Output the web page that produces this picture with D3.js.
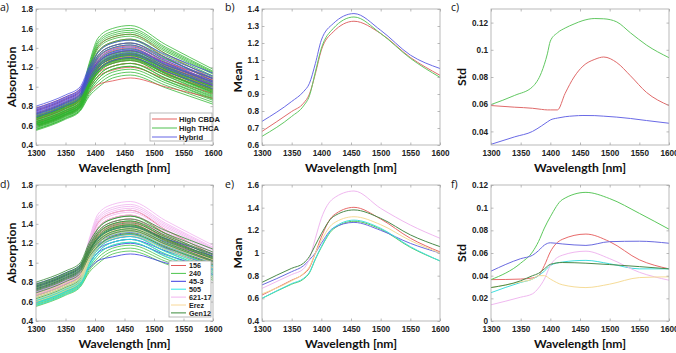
<!DOCTYPE html>
<html><head><meta charset="utf-8">
<script src="https://cdn.jsdelivr.net/npm/d3@7"></script>
<style>body{margin:0;background:#fff}svg{display:block}</style>
</head><body><svg id="c" width="676" height="353"></svg>
<script>
// ---------------- DATA ----------------
const wavelengthTicks = [1300, 1350, 1400, 1450, 1500, 1550, 1600];
const absTicks = [0.4, 0.6, 0.8, 1, 1.2, 1.4, 1.6, 1.8];
const meanTicksB = [0.6, 0.7, 0.8, 0.9, 1, 1.1, 1.2, 1.3, 1.4];
const stdTicksC = [0.04, 0.06, 0.08, 0.1, 0.12];
const meanTicksE = [0.4, 0.6, 0.8, 1, 1.2, 1.4, 1.6];
const stdTicksF = [0, 0.02, 0.04, 0.06, 0.08, 0.1, 0.12];

const chemotypes = ["High CBDA", "High THCA", "Hybrid"];
const strainNames = ["156", "240", "45-3", "505", "621-17", "Erez", "Gen12"];
const strainChemotype = ["High CBDA", "High THCA", "High CBDA", "High THCA", "High THCA", "High THCA", "Hybrid"];

// individual spectra, sampled at these wavelengths
const specWavelengths = [1300, 1350, 1375, 1390, 1405, 1430, 1460, 1520, 1600];
const spectra156 = [
  [0.59,0.705,0.79,1.01,1.17,1.27,1.30,1.146,0.95],
  [0.60,0.715,0.80,1.035,1.21,1.31,1.34,1.177,0.97],
  [0.62,0.735,0.82,1.06,1.24,1.34,1.37,1.203,0.99],
  [0.63,0.745,0.83,1.08,1.27,1.37,1.40,1.228,1.01],
  [0.64,0.755,0.84,1.095,1.29,1.39,1.42,1.244,1.02],
  [0.66,0.775,0.86,1.12,1.32,1.42,1.45,1.27,1.04],
  [0.67,0.785,0.87,1.145,1.36,1.46,1.49,1.301,1.06],
  [0.69,0.805,0.89,1.18,1.41,1.51,1.54,1.338,1.08]
];
const spectra240 = [
  [0.55,0.665,0.75,0.90,0.99,1.09,1.12,0.988,0.82],
  [0.56,0.675,0.76,0.92,1.02,1.12,1.15,1.014,0.84],
  [0.57,0.685,0.77,0.94,1.05,1.15,1.18,1.039,0.86],
  [0.58,0.695,0.78,0.96,1.08,1.18,1.21,1.065,0.88],
  [0.59,0.705,0.79,0.98,1.11,1.21,1.24,1.09,0.90],
  [0.60,0.715,0.80,1.00,1.14,1.24,1.27,1.116,0.92],
  [0.60,0.715,0.80,1.01,1.16,1.26,1.29,1.136,0.94],
  [0.61,0.725,0.81,1.03,1.19,1.29,1.32,1.162,0.96],
  [0.62,0.735,0.82,1.05,1.22,1.32,1.35,1.187,0.98],
  [0.63,0.745,0.83,1.075,1.26,1.36,1.39,1.218,1.00],
  [0.64,0.755,0.84,1.10,1.30,1.40,1.43,1.254,1.03],
  [0.66,0.775,0.86,1.135,1.35,1.45,1.48,1.295,1.06]
];
const spectra45_3 = [
  [0.66,0.775,0.86,0.943,1.021,1.06,1.09,0.998,0.88],
  [0.68,0.795,0.88,0.995,1.104,1.17,1.20,1.081,0.93],
  [0.70,0.815,0.90,1.022,1.138,1.21,1.24,1.121,0.97],
  [0.72,0.835,0.92,1.046,1.165,1.24,1.27,1.151,1.00],
  [0.73,0.845,0.93,1.06,1.182,1.26,1.29,1.171,1.02],
  [0.75,0.865,0.95,1.08,1.202,1.28,1.31,1.196,1.05],
  [0.76,0.875,0.96,1.093,1.219,1.30,1.33,1.216,1.07],
  [0.78,0.895,0.98,1.12,1.253,1.34,1.37,1.247,1.09]
];
const spectra505 = [
  [0.56,0.675,0.76,0.95,1.08,1.18,1.21,1.06,0.87],
  [0.58,0.695,0.78,0.975,1.11,1.21,1.24,1.086,0.89],
  [0.59,0.705,0.79,0.995,1.14,1.24,1.27,1.112,0.91],
  [0.60,0.715,0.80,1.01,1.16,1.26,1.29,1.132,0.93],
  [0.61,0.725,0.81,1.02,1.17,1.27,1.30,1.142,0.94],
  [0.62,0.735,0.82,1.035,1.19,1.29,1.32,1.162,0.96],
  [0.62,0.735,0.82,1.045,1.21,1.31,1.34,1.177,0.97],
  [0.64,0.755,0.84,1.07,1.24,1.34,1.37,1.203,0.99]
];
const spectra621_17 = [
  [0.67,0.785,0.87,1.125,1.32,1.42,1.45,1.287,1.08],
  [0.68,0.795,0.88,1.15,1.36,1.46,1.49,1.318,1.10],
  [0.68,0.795,0.88,1.165,1.39,1.49,1.52,1.34,1.11],
  [0.69,0.805,0.89,1.18,1.41,1.51,1.54,1.36,1.13],
  [0.69,0.805,0.89,1.19,1.43,1.53,1.56,1.375,1.14],
  [0.70,0.815,0.90,1.205,1.45,1.55,1.58,1.391,1.15],
  [0.71,0.825,0.91,1.22,1.47,1.57,1.60,1.406,1.16],
  [0.72,0.835,0.92,1.24,1.50,1.60,1.63,1.432,1.18]
];
const spectraErez = [
  [0.60,0.715,0.80,1.005,1.15,1.25,1.28,1.135,0.95],
  [0.62,0.735,0.82,1.025,1.17,1.27,1.30,1.159,0.98],
  [0.64,0.755,0.84,1.045,1.19,1.29,1.32,1.179,1.00],
  [0.65,0.765,0.85,1.055,1.20,1.30,1.33,1.189,1.01],
  [0.66,0.775,0.86,1.065,1.21,1.31,1.34,1.204,1.03],
  [0.68,0.795,0.88,1.085,1.23,1.33,1.36,1.224,1.05]
];
const spectraGen12 = [
  [0.69,0.805,0.89,1.06,1.17,1.27,1.30,1.159,0.98],
  [0.71,0.825,0.91,1.085,1.20,1.30,1.33,1.189,1.01],
  [0.72,0.835,0.92,1.10,1.22,1.32,1.35,1.205,1.02],
  [0.73,0.845,0.93,1.115,1.24,1.34,1.37,1.225,1.04],
  [0.74,0.855,0.94,1.125,1.25,1.35,1.38,1.235,1.05],
  [0.75,0.865,0.95,1.135,1.26,1.36,1.39,1.245,1.06],
  [0.76,0.875,0.96,1.15,1.28,1.38,1.41,1.265,1.08],
  [0.77,0.885,0.97,1.165,1.30,1.40,1.43,1.28,1.09],
  [0.78,0.895,0.98,1.18,1.32,1.42,1.45,1.30,1.11],
  [0.80,0.915,1.00,1.205,1.35,1.45,1.48,1.33,1.14]
];

// group means (panel b), by chemotype
const meanWavelengths = [1300, 1350, 1370, 1380, 1390, 1400, 1420, 1455, 1500, 1550, 1600];
const meanCBDA   = [0.68, 0.797, 0.846, 0.90, 1.02, 1.158, 1.265, 1.328, 1.256, 1.115, 1.01];
const meanTHCA   = [0.651, 0.768, 0.83, 0.89, 1.03, 1.168, 1.285, 1.353, 1.256, 1.11, 0.998];
const meanHybrid = [0.739, 0.856, 0.914, 0.963, 1.08, 1.217, 1.314, 1.373, 1.275, 1.129, 1.05];

// std (panel c), by chemotype
const stdWavelengthsC = [1300, 1340, 1370, 1385, 1395, 1400, 1412, 1425, 1440, 1455, 1475, 1490, 1512, 1535, 1562, 1600];
const stdCBDA   = [0.059, 0.0578, 0.057, 0.0562, 0.0558, 0.0558, 0.0558, 0.068, 0.08, 0.088, 0.093, 0.0947, 0.0906, 0.0809, 0.0687, 0.059];
const stdTHCA   = [0.0597, 0.0665, 0.0728, 0.0833, 0.097, 0.1064, 0.1125, 0.116, 0.119, 0.1215, 0.123, 0.1228, 0.1205, 0.1125, 0.1035, 0.0942];
const stdHybrid = [0.0305, 0.036, 0.04, 0.044, 0.047, 0.0484, 0.0498, 0.0508, 0.0514, 0.0517, 0.0516, 0.0512, 0.0505, 0.0495, 0.048, 0.046];

// strain means (panel e)
const meanStrain156    = [0.629, 0.76, 0.815, 0.87, 1.0, 1.14, 1.33, 1.403, 1.30, 1.13, 1.01];
const meanStrain240    = [0.60, 0.725, 0.77, 0.825, 0.945, 1.05, 1.21, 1.28, 1.21, 1.05, 0.93];
const meanStrain45_3   = [0.718, 0.835, 0.888, 0.94, 1.0, 1.085, 1.22, 1.27, 1.20, 1.085, 1.0];
const meanStrain505    = [0.60, 0.73, 0.776, 0.83, 0.95, 1.056, 1.22, 1.29, 1.218, 1.056, 0.93];
const meanStrain621_17 = [0.688, 0.81, 0.86, 0.95, 1.13, 1.306, 1.48, 1.547, 1.394, 1.247, 1.13];
const meanStrainErez   = [0.64, 0.755, 0.82, 0.88, 1.0, 1.11, 1.26, 1.32, 1.25, 1.11, 1.0];
const meanStrainGen12  = [0.741, 0.865, 0.91, 0.97, 1.07, 1.17, 1.32, 1.38, 1.306, 1.16, 1.056];

// strain std (panel f)
const stdWavelengthsF = [1300, 1350, 1370, 1380, 1390, 1400, 1420, 1460, 1500, 1550, 1600];
const stdStrain156    = [0.0365, 0.037, 0.038, 0.040, 0.049, 0.061, 0.072, 0.0767, 0.07, 0.054, 0.046];
const stdStrain240    = [0.0365, 0.051, 0.061, 0.07, 0.082, 0.092, 0.107, 0.1135, 0.108, 0.095, 0.081];
const stdStrain45_3   = [0.044, 0.055, 0.058, 0.062, 0.067, 0.069, 0.068, 0.0667, 0.07, 0.0704, 0.0686];
const stdStrain505    = [0.025, 0.034, 0.037, 0.040, 0.044, 0.049, 0.052, 0.0535, 0.0505, 0.046, 0.046];
const stdStrain621_17 = [0.0143, 0.021, 0.024, 0.029, 0.037, 0.049, 0.058, 0.0616, 0.055, 0.043, 0.036];
const stdStrainErez   = [0.0295, 0.0345, 0.037, 0.040, 0.040, 0.037, 0.032, 0.0295, 0.0325, 0.0383, 0.039];
const stdStrainGen12  = [0.0295, 0.0355, 0.040, 0.042, 0.046, 0.050, 0.0516, 0.051, 0.0498, 0.048, 0.046];

// ---------------- STYLE ----------------
const chemoColor = {"High CBDA": "#e04848", "High THCA": "#2fb52f", "Hybrid": "#4a4ae0"};
const chemoMeanColor = {"High CBDA": "#e06a6a", "High THCA": "#62c862", "Hybrid": "#6a6ae6"};
const strainColor = {"156": "#e05a5a", "240": "#4cc44c", "45-3": "#3a3ae0", "505": "#2ee6e6",
  "621-17": "#f2b4f0", "Erez": "#f8d898", "Gen12": "#3a8a3a"};
const strainMeanColor = {"156": "#e86a6a", "240": "#5cc85c", "45-3": "#6a6ae0", "505": "#40dede",
  "621-17": "#f0b8f0", "Erez": "#f6dc98", "Gen12": "#4a8a4a"};

const spectraByStrain = [spectra156, spectra240, spectra45_3, spectra505, spectra621_17, spectraErez, spectraGen12];
const strainMeans = [meanStrain156, meanStrain240, meanStrain45_3, meanStrain505, meanStrain621_17, meanStrainErez, meanStrainGen12];
const strainStds = [stdStrain156, stdStrain240, stdStrain45_3, stdStrain505, stdStrain621_17, stdStrainErez, stdStrainGen12];

const svg = d3.select("#c");
const FRAME = "#a8a8a8", TICKTXT = "#222";
const LABFONT = "Lato, 'Open Sans', sans-serif";

const probe = svg.append("text").attr("font-family", LABFONT).attr("font-weight", "bold")
  .attr("font-size", 13).text("Wavelength [nm]");
const labSize = 13 * 92 / probe.node().getComputedTextLength();
probe.remove();

function makePanel(cfg) {
  const x = d3.scaleLinear().domain([1300, 1600]).range([cfg.x0, cfg.x1]);
  const y = d3.scaleLinear().domain(cfg.yDomain).range([cfg.y1, cfg.y0]);
  const g = svg.append("g");
  const fmt = v => String(+v.toFixed(3));
  const clipId = "clip" + cfg.tag[0];
  svg.append("clipPath").attr("id", clipId).append("rect")
    .attr("x", cfg.x0).attr("y", cfg.y0).attr("width", cfg.x1 - cfg.x0).attr("height", cfg.y1 - cfg.y0);
  const plot = g.append("g").attr("clip-path", `url(#${clipId})`);
  const styleAxis = (sel, labels) => {
    sel.select(".domain").remove();
    sel.selectAll(".tick line").attr("stroke", FRAME).attr("stroke-width", 0.8);
    sel.selectAll(".tick text").attr("fill", TICKTXT).attr("font-family", "'Liberation Sans', Arial, sans-serif")
      .attr("font-weight", "bold").attr("font-size", 8.2);
    if (!labels) sel.selectAll(".tick text").remove();
  };
  const axB = g.append("g").attr("transform", `translate(0,${cfg.y1})`)
    .call(d3.axisBottom(x).tickValues(wavelengthTicks).tickSize(-2.5).tickPadding(5).tickFormat(d3.format("d")));
  styleAxis(axB, true);
  const axT = g.append("g").attr("transform", `translate(0,${cfg.y0})`)
    .call(d3.axisTop(x).tickValues(wavelengthTicks).tickSize(-2.5));
  styleAxis(axT, false);
  const axL = g.append("g").attr("transform", `translate(${cfg.x0},0)`)
    .call(d3.axisLeft(y).tickValues(cfg.yTicks).tickSize(-2.5).tickPadding(3).tickFormat(fmt));
  styleAxis(axL, true);
  const axR = g.append("g").attr("transform", `translate(${cfg.x1},0)`)
    .call(d3.axisRight(y).tickValues(cfg.yTicks).tickSize(-2.5));
  styleAxis(axR, false);
  const frame = () => g.append("rect").attr("x", cfg.x0).attr("y", cfg.y0).attr("width", cfg.x1 - cfg.x0)
    .attr("height", cfg.y1 - cfg.y0).attr("fill", "none").attr("stroke", FRAME).attr("stroke-width", 0.8);
  g.append("text").attr("x", (cfg.x0 + cfg.x1) / 2).attr("y", cfg.y1 + 26.5).attr("text-anchor", "middle")
    .attr("font-family", LABFONT).attr("font-weight", "bold").attr("font-size", labSize).attr("fill", "#111")
    .text("Wavelength [nm]");
  g.append("text").attr("transform", `translate(${cfg.ylabX},${(cfg.y0 + cfg.y1) / 2}) rotate(-90)`)
    .attr("text-anchor", "middle").attr("font-family", LABFONT).attr("font-weight", "bold")
    .attr("font-size", labSize).attr("fill", "#111").text(cfg.ylabel);
  g.append("text").attr("x", cfg.tagX).attr("y", cfg.tagY).attr("font-family", "'Open Sans', sans-serif")
    .attr("font-size", 10.5).attr("fill", "#111").text(cfg.tag);
  return {x, y, g, plot, frame};
}

function drawLine(p, wl, vals, color, width, opacity) {
  const line = d3.line().x((d, i) => p.x(wl[i])).y(d => p.y(d)).curve(d3.curveMonotoneX);
  p.plot.append("path").attr("d", line(vals)).attr("fill", "none").attr("stroke", color)
    .attr("stroke-width", width).attr("stroke-opacity", opacity);
}

// ---------- panel a ----------
const pa = makePanel({x0: 36, x1: 213, y0: 9, y1: 145, yDomain: [0.4, 1.8], yTicks: absTicks,
  ylabel: "Absorption", ylabX: 16, tag: "a)", tagX: 0, tagY: 11});
spectraByStrain.forEach((set, si) => set.forEach(s =>
  drawLine(pa, specWavelengths, s, chemoColor[strainChemotype[si]], 0.9, 0.85)));
pa.frame();
{
  const lg = pa.g.append("g");
  lg.append("rect").attr("x", 150).attr("y", 113).attr("width", 62).attr("height", 28)
    .attr("fill", "#fff").attr("stroke", FRAME).attr("stroke-width", 0.8);
  chemotypes.forEach((c, i) => {
    const yy = 119 + i * 9;
    lg.append("line").attr("x1", 152).attr("x2", 177).attr("y1", yy).attr("y2", yy)
      .attr("stroke", chemoColor[c]).attr("stroke-width", 1).attr("stroke-opacity", 0.85);
    lg.append("text").attr("x", 179).attr("y", yy + 2.7).attr("font-family", "'Liberation Sans', Arial, sans-serif")
      .attr("font-weight", "bold").attr("font-size", 7.6).attr("fill", TICKTXT).text(c);
  });
}

// ---------- panel b ----------
const pb = makePanel({x0: 262, x1: 440, y0: 9, y1: 145, yDomain: [0.6, 1.4], yTicks: meanTicksB,
  ylabel: "Mean", ylabX: 242, tag: "b)", tagX: 225, tagY: 11});
[[meanCBDA, "High CBDA"], [meanTHCA, "High THCA"], [meanHybrid, "Hybrid"]].forEach(([m, c]) =>
  drawLine(pb, meanWavelengths, m, chemoMeanColor[c], 1, 1));
pb.frame();

// ---------- panel c ----------
const pc = makePanel({x0: 491, x1: 669, y0: 9, y1: 145, yDomain: [0.03, 0.13], yTicks: stdTicksC,
  ylabel: "Std", ylabX: 466, tag: "c)", tagX: 451, tagY: 11});
[[stdCBDA, "High CBDA"], [stdTHCA, "High THCA"], [stdHybrid, "Hybrid"]].forEach(([m, c]) =>
  drawLine(pc, stdWavelengthsC, m, chemoMeanColor[c], 1, 1));
pc.frame();

// ---------- panel d ----------
const pd = makePanel({x0: 36, x1: 213, y0: 185, y1: 321, yDomain: [0.4, 1.8], yTicks: absTicks,
  ylabel: "Absorption", ylabX: 16, tag: "d)", tagX: 0, tagY: 188});
spectraByStrain.forEach((set, si) => set.forEach(s =>
  drawLine(pd, specWavelengths, s, strainColor[strainNames[si]], 0.9, 0.9)));
pd.frame();
{
  const lg = pd.g.append("g");
  lg.append("rect").attr("x", 169).attr("y", 261).attr("width", 42).attr("height", 56)
    .attr("fill", "#fff").attr("stroke", FRAME).attr("stroke-width", 0.8);
  strainNames.forEach((s, i) => {
    const yy = 265.5 + i * 7.9;
    lg.append("line").attr("x1", 171).attr("x2", 186).attr("y1", yy).attr("y2", yy)
      .attr("stroke", strainColor[s]).attr("stroke-width", 1);
    lg.append("text").attr("x", 189).attr("y", yy + 2.6).attr("font-family", "'Liberation Sans', Arial, sans-serif")
      .attr("font-weight", "bold").attr("font-size", 7.2).attr("fill", TICKTXT).text(s);
  });
}

// ---------- panel e ----------
const pe = makePanel({x0: 262, x1: 440, y0: 185, y1: 321, yDomain: [0.4, 1.6], yTicks: meanTicksE,
  ylabel: "Mean", ylabX: 242, tag: "e)", tagX: 225, tagY: 188});
strainMeans.forEach((m, i) => drawLine(pe, meanWavelengths, m, strainMeanColor[strainNames[i]], 1, 1));
pe.frame();

// ---------- panel f ----------
const pf = makePanel({x0: 491, x1: 669, y0: 185, y1: 321, yDomain: [0, 0.12], yTicks: stdTicksF,
  ylabel: "Std", ylabX: 466, tag: "f)", tagX: 451, tagY: 188});
strainStds.forEach((m, i) => drawLine(pf, stdWavelengthsF, m, strainMeanColor[strainNames[i]], 1, 1));
pf.frame();
</script></body></html>
